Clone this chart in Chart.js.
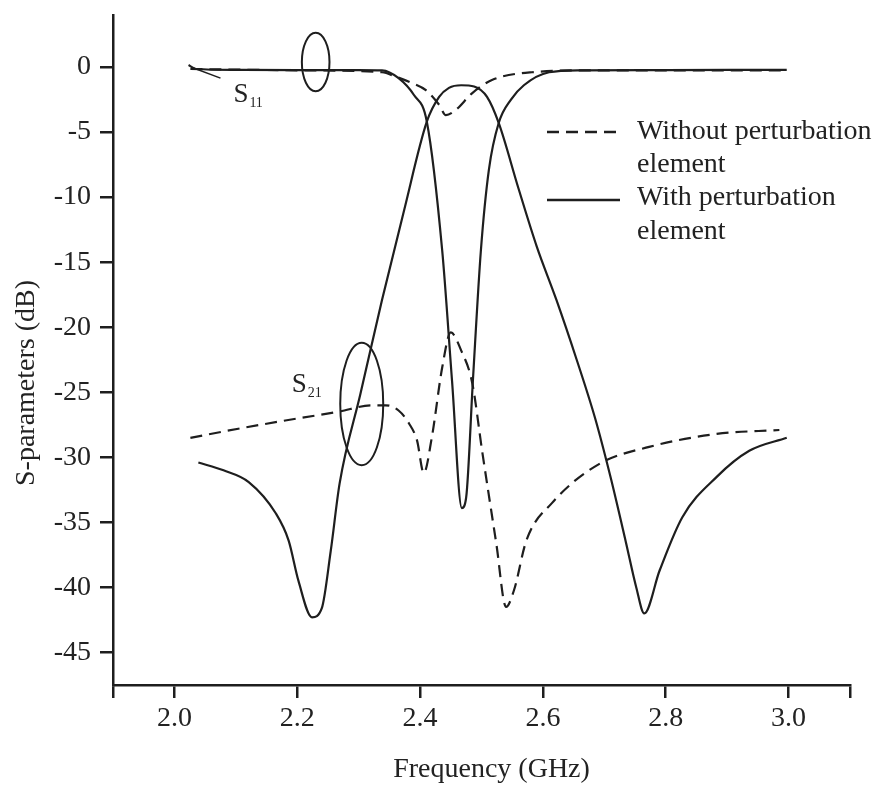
<!DOCTYPE html>
<html>
<head>
<meta charset="utf-8">
<title>S-parameters</title>
<script src="https://cdn.jsdelivr.net/npm/chart.js@4.4.1/dist/chart.umd.min.js"></script>
<style>
  body { margin: 0; background: #fff; }
  canvas { display: block; }
</style>
</head>
<body>
<canvas id="grafico" width="882" height="788"></canvas>
<script>
// Datos (frecuencia en GHz, nivel en dB)
const xTicks = [2.0, 2.2, 2.4, 2.6, 2.8, 3.0];
const xTickLabels = ['2.0', '2.2', '2.4', '2.6', '2.8', '3.0'];
const yTicks = [0, -5, -10, -15, -20, -25, -30, -35, -40, -45];
const yTickLabels = ['0', '-5', '-10', '-15', '-20', '-25', '-30', '-35', '-40', '-45'];

// S11 con elemento de perturbación (línea continua)
const s11WithF  = [2.023, 2.035, 2.10, 2.20, 2.30, 2.338, 2.365, 2.390, 2.411, 2.436, 2.452, 2.468, 2.475, 2.486, 2.499, 2.512, 2.528, 2.548, 2.569, 2.61, 2.66, 2.80, 2.997];
const s11WithDb = [0.15, -0.15, -0.22, -0.23, -0.23, -0.25, -0.85, -2.15, -4.2, -14.1, -24.1, -33.9, -33.1, -24.1, -14.1, -7.9, -4.3, -2.5, -1.4, -0.4, -0.25, -0.23, -0.22];

// S21 con elemento de perturbación (línea continua)
const s21WithF  = [2.039, 2.080, 2.121, 2.165, 2.186, 2.202, 2.224, 2.240, 2.2545, 2.269, 2.303, 2.338, 2.374, 2.411, 2.431, 2.447, 2.467, 2.488, 2.509, 2.528, 2.56, 2.59, 2.622, 2.655, 2.685, 2.71, 2.735, 2.752, 2.765, 2.790, 2.827, 2.883, 2.936, 2.997];
const s21WithDb = [-30.4, -31.0, -31.9, -34.3, -36.4, -39.5, -42.3, -41.6, -37.2, -32.0, -25.1, -17.9, -11.0, -4.2, -2.3, -1.6, -1.4, -1.5, -2.3, -4.3, -9.3, -13.8, -17.9, -22.5, -27.0, -31.5, -36.5, -40.0, -42.0, -38.7, -34.6, -31.5, -29.5, -28.5];

// S11 sin elemento de perturbación (línea discontinua)
const s11WithoutF  = [2.026, 2.20, 2.338, 2.361, 2.385, 2.410, 2.431, 2.442, 2.458, 2.485, 2.517, 2.582, 2.69, 2.997];
const s11WithoutDb = [-0.15, -0.25, -0.4, -0.75, -1.2, -1.8, -2.9, -3.7, -3.3, -2.0, -1.0, -0.4, -0.25, -0.25];

// S21 sin elemento de perturbación (línea discontinua)
const s21WithoutF  = [2.026, 2.104, 2.202, 2.267, 2.321, 2.344, 2.365, 2.382, 2.395, 2.406, 2.419, 2.436, 2.450, 2.467, 2.485, 2.501, 2.524, 2.540, 2.553, 2.573, 2.615, 2.692, 2.773, 2.883, 2.985];
const s21WithoutDb = [-28.5, -27.8, -27.0, -26.5, -26.0, -26.0, -26.4, -27.4, -28.7, -31.2, -28.5, -23.1, -20.4, -21.8, -24.3, -29.5, -36.6, -41.5, -40.2, -36.4, -33.5, -30.5, -29.2, -28.2, -27.9];

const tinta = '#1e1e1e';
const fuente = '"Liberation Serif", "Times New Roman", serif';

function puntos(fs, dbs) {
    return fs.map((f, i) => ({ x: f, y: dbs[i] }));
}

function serie(fs, dbs, discontinua) {
    return {
        data: puntos(fs, dbs),
        borderColor: tinta,
        borderWidth: 2.2,
        borderDash: discontinua ? [12, 7] : [],
        pointRadius: 0,
        cubicInterpolationMode: 'monotone',
        fill: false
    };
}

// Anotaciones: elipses, etiquetas S11/S21, leyenda y títulos de ejes
const anotaciones = {
    id: 'anotaciones',
    afterDraw(chart) {
        const { ctx, chartArea: a, scales: { x, y } } = chart;
        ctx.save();
        ctx.strokeStyle = tinta;
        ctx.fillStyle = '#222';
        ctx.lineWidth = 2;

        // elipses (centro y semiejes en unidades de datos)
        const elipses = [
            { f: 2.230, db: 0.38, rf: 0.0225, rdb: 2.25 },
            { f: 2.305, db: -25.9, rf: 0.035, rdb: 4.7 }
        ];
        elipses.forEach(e => {
            const cx = x.getPixelForValue(e.f);
            const cy = y.getPixelForValue(e.db);
            const rx = Math.abs(x.getPixelForValue(e.f + e.rf) - cx);
            const ry = Math.abs(y.getPixelForValue(e.db + e.rdb) - cy);
            ctx.beginPath();
            ctx.ellipse(cx, cy, rx, ry, 0, 0, Math.PI * 2);
            ctx.stroke();
        });

        // línea guía de S11
        ctx.lineWidth = 1.5;
        ctx.beginPath();
        ctx.moveTo(x.getPixelForValue(2.03), y.getPixelForValue(-0.05));
        ctx.lineTo(x.getPixelForValue(2.075), y.getPixelForValue(-0.85));
        ctx.stroke();

        // etiquetas S11 y S21 con subíndice
        function etiqueta(f, db, sub) {
            const px = x.getPixelForValue(f);
            const py = y.getPixelForValue(db);
            ctx.textAlign = 'left';
            ctx.textBaseline = 'alphabetic';
            ctx.font = '27px ' + fuente;
            ctx.fillText('S', px, py);
            const w = ctx.measureText('S').width;
            ctx.font = '14px ' + fuente;
            ctx.fillText(sub, px + w + 1, py + 5);
        }
        etiqueta(2.096, -2.7, '11');
        etiqueta(2.191, -25.0, '21');

        // leyenda
        ctx.lineWidth = 2.5;
        const lx0 = a.right - 303, lx1 = a.right - 230, tx = a.right - 213;
        ctx.setLineDash([12, 7]);
        ctx.beginPath();
        ctx.moveTo(lx0, a.top + 117);
        ctx.lineTo(lx1, a.top + 117);
        ctx.stroke();
        ctx.setLineDash([]);
        ctx.beginPath();
        ctx.moveTo(lx0, a.top + 185);
        ctx.lineTo(lx1, a.top + 185);
        ctx.stroke();
        ctx.font = '28px ' + fuente;
        ctx.textAlign = 'left';
        ctx.textBaseline = 'middle';
        ctx.fillText('Without perturbation', tx, a.top + 117);
        ctx.fillText('element', tx, a.top + 150);
        ctx.fillText('With perturbation', tx, a.top + 183);
        ctx.fillText('element', tx, a.top + 217);

        // títulos de ejes
        ctx.textAlign = 'center';
        ctx.fillText('Frequency (GHz)', (a.left + a.right) / 2 + 10, a.bottom + 85);
        ctx.translate(27, (a.top + a.bottom) / 2 + 33);
        ctx.rotate(-Math.PI / 2);
        ctx.fillText('S-parameters (dB)', 0, 0);
        ctx.restore();
    }
};

document.addEventListener('DOMContentLoaded', function() {
    const ctx = document.getElementById('grafico').getContext('2d');
    new Chart(ctx, {
        type: 'line',
        data: {
            datasets: [
                serie(s21WithoutF, s21WithoutDb, true),
                serie(s11WithoutF, s11WithoutDb, true),
                serie(s21WithF, s21WithDb, false),
                serie(s11WithF, s11WithDb, false)
            ]
        },
        options: {
            responsive: false,
            animation: false,
            layout: { padding: { top: 15, right: 32, left: 0, bottom: 0 } },
            plugins: { legend: { display: false }, tooltip: { enabled: false } },
            scales: {
                x: {
                    type: 'linear',
                    min: 1.9,
                    max: 3.1,
                    afterBuildTicks: s => { s.ticks = [1.9, ...xTicks, 3.1].map(v => ({ value: v })); },
                    afterFit: s => { s.height = 103; s.paddingLeft = 0; s.paddingRight = 0; },
                    ticks: {
                        autoSkip: false,
                        maxRotation: 0,
                        padding: 4,
                        color: '#222',
                        font: { family: fuente, size: 28 },
                        callback: v => {
                            const k = xTicks.findIndex(t => Math.abs(t - v) < 1e-9);
                            return k < 0 ? '' : xTickLabels[k];
                        }
                    },
                    grid: { drawOnChartArea: false, tickLength: 13, color: tinta, lineWidth: 2.5 },
                    border: { color: tinta, width: 2.5 }
                },
                y: {
                    min: -47.5,
                    max: 4,
                    afterBuildTicks: s => { s.ticks = yTicks.map(v => ({ value: v })); },
                    afterFit: s => { s.width = 113; s.paddingTop = 0; s.paddingBottom = 0; },
                    ticks: {
                        autoSkip: false,
                        padding: 9,
                        color: '#222',
                        font: { family: fuente, size: 28 },
                        callback: v => {
                            const k = yTicks.indexOf(v);
                            return k < 0 ? '' : yTickLabels[k];
                        }
                    },
                    grid: { drawOnChartArea: false, tickLength: 13, color: tinta, lineWidth: 2.5 },
                    border: { color: tinta, width: 2.5 }
                }
            }
        },
        plugins: [anotaciones]
    });
});
</script>
</body>
</html>
